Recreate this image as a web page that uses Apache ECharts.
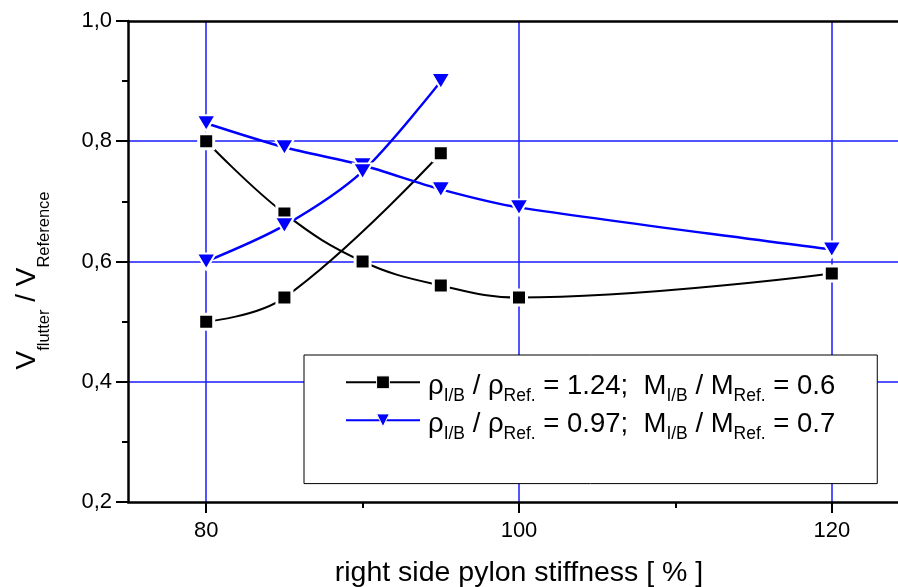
<!DOCTYPE html>
<html><head><meta charset="utf-8">
<script src="https://cdn.jsdelivr.net/npm/echarts@6/dist/echarts.min.js"></script>
<style>html,body{margin:0;padding:0;background:#fff}#c{width:898px;height:587px}</style>
</head><body><div id="c"></div>
<script>
// ---- data ----
const stiffness = [80, 85, 90, 95, 100, 120];
const blackFalling = [0.80, 0.68, 0.60, 0.56, 0.54, 0.58];
const blackRisingX = [80, 85, 95];
const blackRising = [0.50, 0.54, 0.78];
const blueFalling = [0.83, 0.79, 0.76, 0.72, 0.69, 0.62];
const blueRisingX = [80, 85, 90, 95];
const blueRising = [0.60, 0.66, 0.75, 0.90];
const xTickValues = [80, 100, 120];
const seriesNames = ['s1', 's2'];
const densityRatio = ['1.24', '0.97'];
const massRatio = ['0.6', '0.7'];

const FONT = "'Liberation Sans', Arial, sans-serif";
const GRID_BLUE = '#1a1aff';
const pair = (xs, ys) => xs.map((x, i) => [x, ys[i]]);

const squareStyle = {
  type: 'line', symbol: 'rect', symbolSize: 15, smooth: 0.4,
  itemStyle: { color: '#000', borderColor: '#fff', borderWidth: 3 },
  lineStyle: { color: '#000', width: 2 }
};
const triStyle = {
  type: 'line', symbol: 'triangle', symbolRotate: 180, symbolSize: [19, 16], smooth: 0.3,
  itemStyle: { color: '#0000ff', borderColor: '#fff', borderWidth: 2 },
  lineStyle: { color: '#0000ff', width: 2.5 }
};

const chart = echarts.init(document.getElementById('c'));
chart.setOption({
  animation: false,
  backgroundColor: '#fff',
  grid: { left: 128, top: 21, width: 782, height: 481, containLabel: false, outerBoundsMode: 'none' },
  xAxis: [{
    type: 'value', min: 75, max: 125, splitNumber: 3, position: 'bottom',
    axisLine: { lineStyle: { color: '#000', width: 2.5 } },
    axisTick: { length: 11, customValues: xTickValues, lineStyle: { color: '#000', width: 2 } },
    minorTick: { show: true, splitNumber: 2, length: 6, lineStyle: { color: '#000', width: 2 } },
    axisLabel: { customValues: xTickValues, margin: 18, fontSize: 22, lineHeight: 22, color: '#000', fontFamily: FONT },
    splitLine: { show: true, showMinLine: true, showMaxLine: true, lineStyle: { color: [GRID_BLUE], width: 1.5, opacity: 1 } },
    name: 'right side pylon stiffness [ % ]', nameLocation: 'middle', nameGap: 57,
    nameTextStyle: { fontSize: 28.5, lineHeight: 28, color: '#000', fontFamily: FONT }
  }, {
    type: 'value', min: 75, max: 125, position: 'top',
    axisLine: { show: true, lineStyle: { color: '#000', width: 2.5 } },
    axisTick: { show: false }, axisLabel: { show: false }, splitLine: { show: false }
  }],
  yAxis: {
    type: 'value', min: 0.2, max: 1.0, interval: 0.2,
    axisLine: { show: true, lineStyle: { color: '#000', width: 2.5 } },
    axisTick: { show: true, length: 12, lineStyle: { color: '#000', width: 2 } },
    minorTick: { show: true, splitNumber: 2, length: 6, lineStyle: { color: '#000', width: 2 } },
    axisLabel: { margin: 16, fontSize: 22, color: '#000', fontFamily: FONT,
      formatter: v => v.toFixed(1).replace('.', ',') },
    splitLine: { show: true, showMinLine: false, showMaxLine: false, lineStyle: { color: [GRID_BLUE], width: 1.5, opacity: 1 } },
    name: '{m|V}{s|flutter}{m| / V}{s|Reference}', nameLocation: 'middle', nameGap: 87, nameRotate: 90,
    nameTextStyle: {
      color: '#000', fontFamily: FONT, padding: [0, 38, 0, 0],
      rich: {
        m: { fontSize: 28, lineHeight: 28, fontFamily: FONT, color: '#000' },
        s: { fontSize: 16.5, lineHeight: 16.5, padding: [35, 0, 0, 0], fontFamily: FONT, color: '#000' }
      }
    }
  },
  legend: {
    orient: 'vertical', left: 304, top: 355,
    padding: [4, 42, 40, 41], itemGap: -8.6,
    itemWidth: 74, itemHeight: 16,
    itemStyle: { borderWidth: 1, borderColor: '#fff' },
    backgroundColor: '#fff', borderColor: '#000', borderWidth: 1,
    data: seriesNames,
    formatter: function (name) {
      const i = seriesNames.indexOf(name);
      return '{a|ρ}{s|I/B}{a| / ρ}{s|Ref.}{a| = ' + densityRatio[i] + ';  M}{s|I/B}{a| / M}{s|Ref.}{a| = ' + massRatio[i] + '}';
    },
    textStyle: {
      padding: [0, 0, 0, 3], fontFamily: FONT, color: '#000',
      rich: {
        a: { fontSize: 27.5, lineHeight: 30, padding: [7.8, 0, 0, 0], fontFamily: FONT, color: '#000' },
        s: { fontSize: 17.5, lineHeight: 17, padding: [28.6, 0, 0, 0], fontFamily: FONT, color: '#000' }
      }
    }
  },
  series: [
    Object.assign({ name: seriesNames[0], data: pair(stiffness, blackFalling) }, squareStyle),
    Object.assign({ name: seriesNames[0], data: pair(blackRisingX, blackRising) }, squareStyle),
    Object.assign({ name: seriesNames[1], data: pair(stiffness, blueFalling) }, triStyle),
    Object.assign({ name: seriesNames[1], data: pair(blueRisingX, blueRising) }, triStyle)
  ]
});
</script></body></html>
